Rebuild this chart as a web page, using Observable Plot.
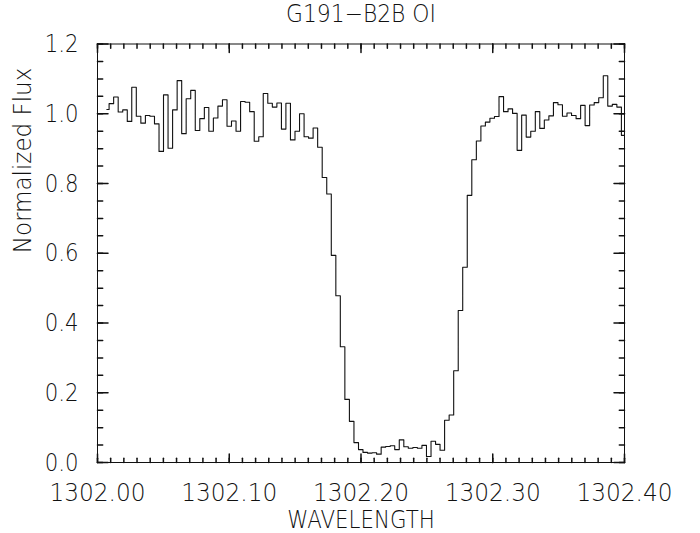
<!DOCTYPE html>
<html><head><meta charset="utf-8">
<script src="https://cdn.jsdelivr.net/npm/d3@7"></script>
<script src="https://cdn.jsdelivr.net/npm/@observablehq/plot@0.6"></script>
<style>body{margin:0;background:#fff}</style>
</head><body><div id="chart"></div>
<script>
const wavelength = [
1302.0071,1302.0105,1302.0140,1302.0174,1302.0209,1302.0243,1302.0277,1302.0312,1302.0346,1302.0381,
1302.0415,1302.0450,1302.0484,1302.0518,1302.0553,1302.0587,1302.0622,1302.0656,1302.0690,1302.0725,
1302.0759,1302.0794,1302.0828,1302.0862,1302.0897,1302.0931,1302.0966,1302.1000,1302.1034,1302.1069,
1302.1103,1302.1138,1302.1172,1302.1207,1302.1241,1302.1275,1302.1310,1302.1344,1302.1379,1302.1413,
1302.1447,1302.1482,1302.1516,1302.1551,1302.1585,1302.1619,1302.1654,1302.1688,1302.1723,1302.1757,
1302.1792,1302.1826,1302.1860,1302.1895,1302.1929,1302.1964,1302.1998,1302.2032,1302.2067,1302.2101,
1302.2136,1302.2170,1302.2204,1302.2239,1302.2273,1302.2308,1302.2342,1302.2376,1302.2411,1302.2445,
1302.2480,1302.2514,1302.2549,1302.2583,1302.2617,1302.2652,1302.2686,1302.2721,1302.2755,1302.2789,
1302.2824,1302.2858,1302.2893,1302.2927,1302.2961,1302.2996,1302.3030,1302.3065,1302.3099,1302.3133,
1302.3168,1302.3202,1302.3237,1302.3271,1302.3306,1302.3340,1302.3374,1302.3409,1302.3443,1302.3478,
1302.3512,1302.3546,1302.3581,1302.3615,1302.3650,1302.3684,1302.3718,1302.3753,1302.3787,1302.3822,
1302.3856,1302.3890,1302.3925,1302.3959,1302.3994
];
const flux = [
1.012,1.029,1.048,1.005,1.011,0.978,1.076,0.993,0.973,0.995,
0.993,0.971,0.892,1.054,0.901,1.011,1.095,0.943,1.043,1.067,
0.952,0.986,1.018,0.950,0.988,1.022,1.040,0.964,0.979,0.950,
1.035,1.033,1.006,0.921,0.934,1.058,1.030,1.019,1.031,0.956,
1.030,0.925,0.950,1.000,0.934,0.930,0.959,0.904,0.817,0.770,
0.594,0.478,0.332,0.181,0.118,0.057,0.037,0.029,0.027,0.028,
0.024,0.044,0.046,0.048,0.037,0.065,0.045,0.041,0.043,0.041,
0.049,0.017,0.061,0.052,0.035,0.121,0.136,0.263,0.436,0.560,
0.766,0.868,0.922,0.965,0.976,0.987,0.992,1.049,1.006,1.014,
1.001,0.895,0.996,0.933,0.950,1.006,0.958,0.982,0.994,1.032,
1.026,0.993,1.002,0.995,0.986,1.024,0.966,1.025,1.032,1.046,
1.109,1.022,1.027,1.019,0.938
];
const xTicks = [1302.00, 1302.10, 1302.20, 1302.30, 1302.40];
const yTicks = [0.0, 0.2, 0.4, 0.6, 0.8, 1.0, 1.2];
const title = "G191\u2212B2B OI";
const xLabel = "WAVELENGTH";
const yLabel = "Normalized Flux";

const data = wavelength.map((w, i) => ({w, f: flux[i]}));
const xMinor = d3.range(0, 41).map(i => 1302 + i * 0.01);
const yMinor = d3.range(0, 25).map(i => i * 0.05);
const tickShape = {draw(ctx, l) { ctx.moveTo(0, 0); ctx.lineTo(0, -l); }};
const font = "DejaVu Sans";
const fw = 300;
const fmtX = d => d.toFixed(2);
const fmtY = d => d.toFixed(1);

function ticksX(values, len) {
  return [
    Plot.vector(values, {x: d => d, frameAnchor: "bottom", length: len, rotate: 0, anchor: "start", shape: tickShape, stroke: "#111"}),
    Plot.vector(values, {x: d => d, frameAnchor: "top", length: len, rotate: 180, anchor: "start", shape: tickShape, stroke: "#111"})
  ];
}
function ticksY(values, len) {
  return [
    Plot.vector(values, {y: d => d, frameAnchor: "left", length: len, rotate: 90, anchor: "start", shape: tickShape, stroke: "#111"}),
    Plot.vector(values, {y: d => d, frameAnchor: "right", length: len, rotate: -90, anchor: "start", shape: tickShape, stroke: "#111"})
  ];
}

const chart = Plot.plot({
  width: 700,
  height: 533,
  marginLeft: 97,
  marginRight: 76,
  marginTop: 43.5,
  marginBottom: 71,
  style: {fontFamily: font, background: "#fff", color: "#111"},
  x: {domain: [1302.0, 1302.4], axis: null},
  y: {domain: [0, 1.2], axis: null},
  marks: [
    Plot.frame({stroke: "#111", strokeWidth: 1}),
    ...ticksX(xMinor, 4.2),
    ...ticksX(xTicks, 8.4),
    ...ticksY(yMinor, 5.2),
    ...ticksY(yTicks, 10.5),
    Plot.line(data, {x: "w", y: "f", curve: "step", stroke: "#111", strokeWidth: 1.1}),
    Plot.text(xTicks, {x: d => d, frameAnchor: "bottom", lineAnchor: "middle", dy: 30, text: fmtX, fontSize: 25, fontWeight: fw, fill: "#111"}),
    Plot.text(yTicks, {y: d => d, frameAnchor: "left", lineAnchor: "middle", dx: -19, textAnchor: "end", text: fmtY, fontSize: 25, fontWeight: fw, fill: "#111"}),
    Plot.text([title], {frameAnchor: "top", lineAnchor: "middle", dy: -30, text: d => d, fontSize: 24, fontWeight: fw, fill: "#111"}),
    Plot.text([xLabel], {frameAnchor: "bottom", lineAnchor: "middle", dy: 58, text: d => d, fontSize: 24, fontWeight: fw, fill: "#111"}),
    Plot.text([yLabel], {frameAnchor: "left", lineAnchor: "middle", dx: -75, rotate: -90, text: d => d, fontSize: 25, fontWeight: fw, fill: "#111"})
  ]
});
// narrow the glyphs horizontally to mimic the tall, thin vector font of the original
const squeeze = new Map();
xTicks.forEach(d => squeeze.set(fmtX(d), 0.93));
yTicks.forEach(d => squeeze.set(fmtY(d), 0.85));
squeeze.set(title, 0.91);
squeeze.set(xLabel, 0.89);
squeeze.set(yLabel, 0.92);
chart.querySelectorAll("text").forEach(t => {
  const s = squeeze.get(t.textContent);
  if (!s) return;
  const tr = t.getAttribute("transform");
  t.setAttribute("transform", (tr ? tr + " " : "") + `scale(${s},1)`);
});
document.getElementById("chart").appendChild(chart);
</script>
</body></html>
